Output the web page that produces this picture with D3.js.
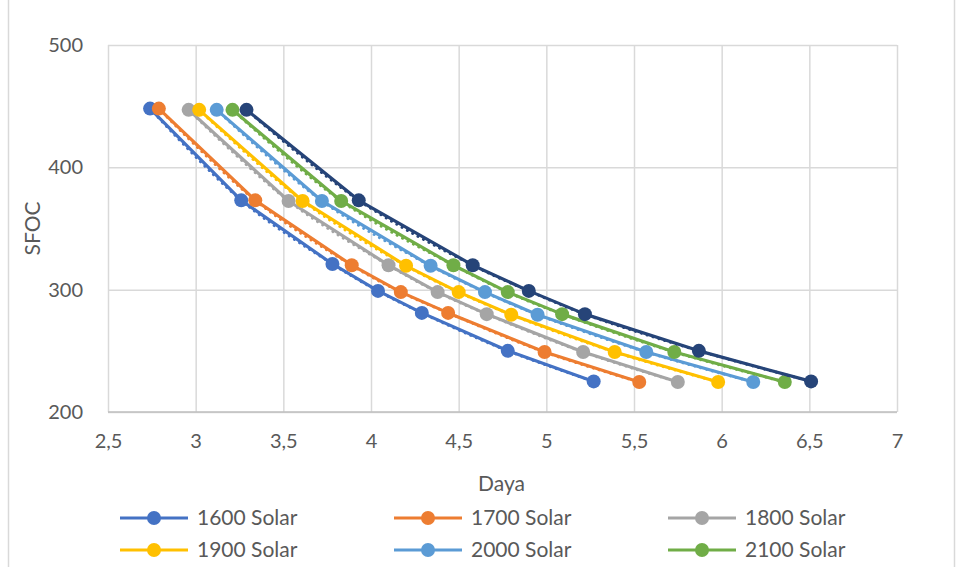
<!DOCTYPE html>
<html>
<head>
<meta charset="utf-8">
<script src="https://cdn.jsdelivr.net/npm/d3@7"></script>
<style>
  html, body { margin: 0; padding: 0; background: #fff; }
  svg { display: block; }
  text { font-family: Lato, "Open Sans", sans-serif; fill: #595959; }
</style>
</head>
<body>
<svg id="chart" width="961" height="567"></svg>
<script>
// Series names, colours and readings (power "Daya" vs. SFOC)
const seriesNames = ["1600 Solar", "1700 Solar", "1800 Solar", "1900 Solar", "2000 Solar", "2100 Solar", "2200 Solar"];
const seriesColors = ["#4472C4", "#ED7D31", "#A5A5A5", "#FFC000", "#5B9BD5", "#70AD47", "#264478"];

const daya1600 = [2.74, 3.26, 3.78, 4.04, 4.29, 4.78, 5.27];
const daya1700 = [2.79, 3.34, 3.89, 4.17, 4.44, 4.99, 5.53];
const daya1800 = [2.96, 3.53, 4.10, 4.38, 4.66, 5.21, 5.75];
const daya1900 = [3.02, 3.61, 4.20, 4.50, 4.80, 5.39, 5.98];
const daya2000 = [3.12, 3.72, 4.34, 4.65, 4.95, 5.57, 6.18];
const daya2100 = [3.21, 3.83, 4.47, 4.78, 5.09, 5.73, 6.36];
const daya2200 = [3.29, 3.93, 4.58, 4.90, 5.22, 5.87, 6.51];

const sfoc1600 = [448, 373, 321, 299, 281, 250, 225];
const sfoc1700 = [448, 373, 320, 298, 281, 249, 224.5];
const sfoc1800 = [447, 372.5, 320, 298, 280, 249, 224.5];
const sfoc1900 = [447, 372.5, 319.5, 298, 279.5, 249, 224.5];
const sfoc2000 = [447, 372.5, 319.5, 298, 279.5, 249, 224.5];
const sfoc2100 = [447, 372.5, 320, 298, 280, 249, 224.5];
const sfoc2200 = [447, 373, 320, 299, 280, 250, 225];

const xTicks = [2.5, 3, 3.5, 4, 4.5, 5, 5.5, 6, 6.5, 7];
const xTickLabels = ["2,5", "3", "3,5", "4", "4,5", "5", "5,5", "6", "6,5", "7"];
const yTicks = [200, 300, 400, 500];
const yTickLabels = ["200", "300", "400", "500"];

const dayaSets = [daya1600, daya1700, daya1800, daya1900, daya2000, daya2100, daya2200];
const sfocSets = [sfoc1600, sfoc1700, sfoc1800, sfoc1900, sfoc2000, sfoc2100, sfoc2200];
const series = seriesNames.map((name, i) => ({
  name,
  color: seriesColors[i],
  points: dayaSets[i].map((d, j) => ({ x: d, y: sfocSets[i][j] }))
}));

const W = 961, H = 567;
const svg = d3.select("#chart");
const plot = { left: 108, right: 897, top: 45, bottom: 412 };

const x = d3.scaleLinear().domain([2.5, 7]).range([plot.left, plot.right]);
const y = d3.scaleLinear().domain([200, 500]).range([plot.bottom, plot.top]);

// chart frame
svg.append("rect")
  .attr("x", 8.5).attr("y", -10)
  .attr("width", 946).attr("height", 600)
  .attr("fill", "none").attr("stroke", "#D9D9D9").attr("stroke-width", 1.5);

// gridlines
const grid = svg.append("g").attr("class", "grid");
grid.append("g")
  .attr("transform", `translate(0,${plot.bottom})`)
  .call(d3.axisBottom(x).tickValues(xTicks).tickSize(-(plot.bottom - plot.top)).tickFormat(""))
  .call(g => g.select(".domain").remove())
  .call(g => g.selectAll("line").attr("stroke", "#D9D9D9").attr("stroke-width", 1.5));
grid.append("g")
  .attr("transform", `translate(${plot.left},0)`)
  .call(d3.axisLeft(y).tickValues(yTicks).tickSize(-(plot.right - plot.left)).tickFormat(""))
  .call(g => g.select(".domain").remove())
  .call(g => g.selectAll("line").attr("stroke", "#D9D9D9").attr("stroke-width", 1.5));

// horizontal axis line
svg.append("line")
  .attr("x1", plot.left).attr("x2", plot.right)
  .attr("y1", plot.bottom).attr("y2", plot.bottom)
  .attr("stroke", "#BFBFBF").attr("stroke-width", 1.5);

// tick labels
const xAxis = svg.append("g")
  .attr("transform", `translate(0,${plot.bottom + 19})`)
  .call(d3.axisBottom(x).tickValues(xTicks).tickSize(0).tickFormat((d, i) => xTickLabels[i]));
xAxis.select(".domain").remove();
xAxis.selectAll("text").attr("font-size", 20).attr("fill", "#595959")
  .style("font-family", "Lato, sans-serif");

const yAxis = svg.append("g")
  .attr("transform", `translate(${plot.left - 22},0)`)
  .call(d3.axisLeft(y).tickValues(yTicks).tickSize(0).tickFormat((d, i) => yTickLabels[i]));
yAxis.select(".domain").remove();
yAxis.selectAll("text").attr("font-size", 20).attr("fill", "#595959")
  .style("font-family", "Lato, sans-serif");

// axis titles
svg.append("text")
  .attr("x", (plot.left + plot.right) / 2 - 1).attr("y", 491)
  .attr("text-anchor", "middle").attr("font-size", 21)
  .text("Daya");
svg.append("text")
  .attr("transform", `translate(40,${(plot.top + plot.bottom) / 2}) rotate(-90)`)
  .attr("text-anchor", "middle").attr("font-size", 21)
  .text("SFOC");

// series: dotted trend curve, solid connecting line, circle markers
const straight = d3.line().x(d => x(d.x)).y(d => y(d.y));
const smooth = d3.line().x(d => x(d.x)).y(d => y(d.y)).curve(d3.curveCatmullRom.alpha(0.5));

const groups = svg.append("g").selectAll("g.series")
  .data(series).join("g").attr("class", "series");

groups.append("path")
  .attr("d", d => smooth(d.points))
  .attr("fill", "none")
  .attr("stroke", d => d.color)
  .attr("stroke-width", 3)
  .attr("stroke-linecap", "round")
  .attr("stroke-dasharray", "0.1 6");

groups.append("path")
  .attr("d", d => straight(d.points))
  .attr("fill", "none")
  .attr("stroke", d => d.color)
  .attr("stroke-width", 3.2)
  .attr("stroke-linejoin", "round");

groups.selectAll("circle")
  .data(d => d.points.map(p => ({ ...p, color: d.color })))
  .join("circle")
  .attr("cx", d => x(d.x))
  .attr("cy", d => y(d.y))
  .attr("r", 7)
  .attr("fill", d => d.color);

// legend, three entries per row; rows below the chart frame are left out
const legendItems = series
  .map((d, i) => ({ ...d, lx: 120 + (i % 3) * 274, ly: 518 + Math.floor(i / 3) * 32 }))
  .filter(d => d.ly + 12 <= H);

const legend = svg.append("g").selectAll("g.item")
  .data(legendItems).join("g").attr("class", "item")
  .attr("transform", d => `translate(${d.lx},${d.ly})`);

legend.append("line")
  .attr("x1", 0).attr("x2", 68).attr("y1", 0).attr("y2", 0)
  .attr("stroke", d => d.color).attr("stroke-width", 3.2);
legend.append("circle")
  .attr("cx", 34).attr("cy", 0).attr("r", 7)
  .attr("fill", d => d.color);
legend.append("text")
  .attr("x", 77).attr("y", 0).attr("dy", "0.35em")
  .attr("font-size", 21)
  .text(d => d.name);
</script>
</body>
</html>
